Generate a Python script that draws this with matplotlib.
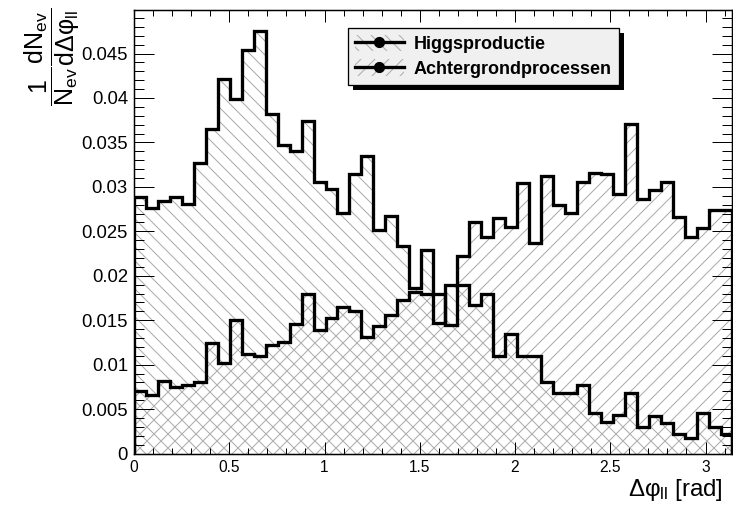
import numpy as np
import matplotlib
matplotlib.use("Agg")
import matplotlib.pyplot as plt
from matplotlib.lines import Line2D
from matplotlib.patches import Patch, Rectangle
from matplotlib.ticker import FixedLocator, MultipleLocator
from matplotlib.transforms import IdentityTransform

# work in pixels: 84 dpi makes the '//' hatch spacing about 7 px like ROOT
DPI = 84
PT = 72.0 / DPI

plt.rcParams['font.family'] = ['Liberation Sans', 'DejaVu Sans']
plt.rcParams['mathtext.default'] = 'regular'
plt.rcParams['hatch.color'] = '#ababab'
plt.rcParams['hatch.linewidth'] = 1.0 * PT

# data: normalised distributions, 50 bins between 0 and pi
n_bins = 50
x_min, x_max = 0.0, np.pi
higgs = [0.0289, 0.0276, 0.0284, 0.0289, 0.0281, 0.0327, 0.0365, 0.0421, 0.0399, 0.0454,
         0.0475, 0.0382, 0.0347, 0.0340, 0.0374, 0.0306, 0.0298, 0.0271, 0.0314, 0.0335,
         0.0252, 0.0267, 0.0234, 0.0186, 0.0229, 0.0147, 0.0190, 0.0190, 0.0167, 0.0179,
         0.0110, 0.0135, 0.0110, 0.0110, 0.0080, 0.0068, 0.0068, 0.0077, 0.0046, 0.0035,
         0.0043, 0.0068, 0.0030, 0.0042, 0.0034, 0.0022, 0.0017, 0.0046, 0.0030, 0.0022]
achtergrond = [0.0070, 0.0066, 0.0082, 0.0075, 0.0077, 0.0080, 0.0124, 0.0102, 0.0150, 0.0112,
               0.0110, 0.0122, 0.0125, 0.0146, 0.0180, 0.0139, 0.0153, 0.0165, 0.0160, 0.0131,
               0.0143, 0.0156, 0.0173, 0.0182, 0.0180, 0.0180, 0.0145, 0.0222, 0.0261, 0.0244,
               0.0265, 0.0255, 0.0304, 0.0237, 0.0312, 0.0280, 0.0271, 0.0306, 0.0316, 0.0315,
               0.0292, 0.0371, 0.0286, 0.0297, 0.0305, 0.0266, 0.0244, 0.0254, 0.0274, 0.0274]
labels = ['Higgsproductie', 'Achtergrondprocessen']
hatches = ['\\\\', '//']

x_ticks = [0, 0.5, 1, 1.5, 2, 2.5, 3]
x_tick_labels = ['0', '0.5', '1', '1.5', '2', '2.5', '3']
y_ticks = [0, 0.005, 0.01, 0.015, 0.02, 0.025, 0.03, 0.035, 0.04, 0.045]
y_tick_labels = ['0', '0.005', '0.01', '0.015', '0.02', '0.025', '0.03', '0.035', '0.04', '0.045']
y_max = 0.0499

edges = np.linspace(x_min, x_max, n_bins + 1)

fig = plt.figure(figsize=(734 / DPI, 523 / DPI), dpi=DPI)
ax = fig.add_axes([134 / 734, 1 - 453.5 / 523, 598.5 / 734, 443.5 / 523])

hcol = '#ababab'
for vals, h in zip([higgs, achtergrond], hatches):
    ax.stairs(vals, edges, fill=True, facecolor='none', edgecolor=hcol,
              hatch=h, linewidth=0, zorder=1)
for vals in [higgs, achtergrond]:
    ax.stairs(vals, edges, color='black', linewidth=3.3 * PT,
              joinstyle='miter', zorder=3)

ax.set_xlim(x_min, x_max)
ax.set_ylim(0, y_max)

ax.xaxis.set_major_locator(FixedLocator(x_ticks))
ax.set_xticklabels(x_tick_labels)
ax.xaxis.set_minor_locator(MultipleLocator(0.1))
ax.yaxis.set_major_locator(FixedLocator(y_ticks))
ax.set_yticklabels(y_tick_labels)
ax.yaxis.set_minor_locator(MultipleLocator(0.001))

ax.tick_params(which='both', direction='in', top=True, right=True, width=1 * PT)
ax.tick_params(axis='x', which='major', length=12 * PT, labelsize=15.5 * PT, pad=7 * PT)
ax.tick_params(axis='x', which='minor', length=6 * PT)
ax.tick_params(axis='y', which='major', length=20 * PT, labelsize=18.5 * PT, pad=6 * PT)
ax.tick_params(axis='y', which='minor', length=10 * PT)
for sp in ax.spines.values():
    sp.set_linewidth(1.5 * PT)

# axis titles, ROOT style
fig.text(723 / 734, 1 - 496 / 523, 'Δφ$_{ll}$ [rad]', ha='right', va='baseline',
         fontsize=24 * PT)
fig.text(52 / 734, 1 - 8 / 523, r'$\dfrac{1}{N_{ev}}\dfrac{dN_{ev}}{dΔφ_{ll}}$',
         rotation=90, ha='center', va='top', fontsize=25 * PT)

# legend with hatch + line/marker symbols
handles = []
for h in hatches:
    p = Patch(facecolor='none', edgecolor=hcol, hatch=h, linewidth=0)
    l = Line2D([], [], color='black', linewidth=3.3 * PT, marker='o', markersize=10 * PT)
    handles.append((p, l))
leg = ax.legend(handles, labels, loc='upper left',
                bbox_to_anchor=((348 - 134) / 598.5, (453.5 - 27.7) / 443.5),
                prop={'weight': 'bold', 'size': 18 * PT}, fancybox=False,
                edgecolor='black', facecolor='#f0f0f0', framealpha=1,
                handlelength=2.7, handleheight=1.0, handletextpad=0.55,
                labelspacing=0.35, borderpad=0.4, borderaxespad=0)
leg.get_frame().set_linewidth(1.3 * PT)
leg.set_zorder(6)

# black drop shadow behind the legend box
fig.canvas.draw()
bb = leg.get_window_extent()
shadow = Rectangle((bb.x0 + 5, bb.y0 - 5), bb.width, bb.height,
                   transform=IdentityTransform(), facecolor='black',
                   edgecolor='none', zorder=5)
ax.add_artist(shadow)

fig.savefig('out.png', dpi=DPI)
